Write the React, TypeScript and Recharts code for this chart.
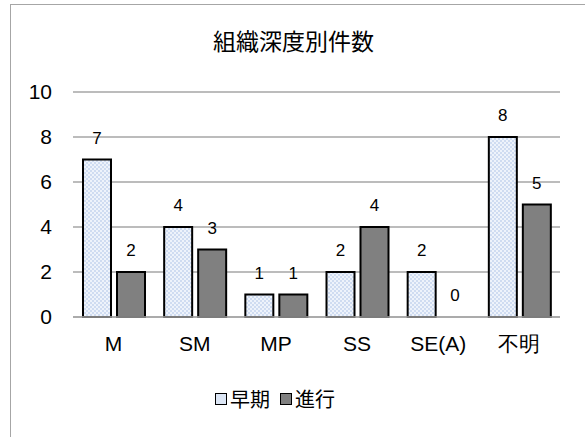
import React from 'react';
import { ComposedChart, Bar, Line, XAxis, YAxis, CartesianGrid, Legend, LabelList } from 'recharts';

const categories = ['M', 'SM', 'MP', 'SS', 'SE(A)', '不明'];
const earlyValues = [7, 4, 1, 2, 2, 8];
const advancedValues = [2, 3, 1, 4, 0, 5];
const yTicks = [0, 2, 4, 6, 8, 10];

// zero-valued bars draw no rect, so their labels come from an invisible line
const data = categories.map((name, i) => ({
  name,
  early: earlyValues[i],
  advanced: advancedValues[i],
  advancedZero: advancedValues[i] === 0 ? 0 : null,
}));

const series = [
  { key: 'early', name: '早期', fill: 'url(#dotPattern)', swatch: '#dce6f5' },
  { key: 'advanced', name: '進行', fill: '#808080', swatch: '#808080' },
];

const axisFont = '"Liberation Sans", Arial, sans-serif';
const jpFont = '"Noto Sans CJK JP", sans-serif';
const labelStyle = { fontSize: 17, fill: '#000', fontFamily: axisFont };

const LegendContent = () => (
  <div style={{ display: 'flex', justifyContent: 'center', alignItems: 'center', fontFamily: jpFont, fontSize: 20, color: '#000' }}>
    {series.map((s) => (
      <span key={s.key} style={{ display: 'flex', alignItems: 'center', marginRight: 10 }}>
        <span style={{ width: 10, height: 10, border: '1.5px solid #000', background: s.swatch, marginRight: 3 }} />
        {s.name}
      </span>
    ))}
  </div>
);

const ZeroLabel = (props: any) => {
  const { x, y, value } = props;
  if (value === null || value === undefined) return null;
  return (
    <text x={x + 16.8} y={y - 16} textAnchor="middle" style={labelStyle}>
      {value}
    </text>
  );
};

export default function App() {
  return (
    <div style={{ position: 'absolute', left: 0, top: 0, width: 585, height: 437, background: '#fff', overflow: 'hidden' }}>
      <div style={{ position: 'absolute', left: 10, top: 4, width: 600, height: 460, border: '1px solid #a6a6a6' }} />
      <div style={{ position: 'absolute', left: 0, top: 23, width: 587, textAlign: 'center', fontFamily: jpFont, fontSize: 23, color: '#000' }}>
        組織深度別件数
      </div>
      <div style={{ position: 'absolute', left: 0, top: 0 }}>
        <ComposedChart
          width={585}
          height={437}
          data={data}
          margin={{ top: 92, right: 25, left: 0, bottom: 61 }}
          barCategoryGap={10}
          barGap={6}
        >
          <defs>
            <pattern id="dotPattern" width="4" height="4" patternUnits="userSpaceOnUse">
              <rect width="4" height="4" fill="#eef3fb" />
              <rect width="2" height="2" fill="#cfdcf1" />
              <rect x="2" y="2" width="2" height="2" fill="#cfdcf1" />
            </pattern>
          </defs>
          <CartesianGrid vertical={false} stroke="#a6a6a6" strokeWidth={1.5} />
          <XAxis
            dataKey="name"
            axisLine={{ stroke: '#a6a6a6', strokeWidth: 1.5 }}
            tickLine={false}
            tickMargin={13}
            tick={{ fontSize: 21, fill: '#000', fontFamily: axisFont }}
            interval={0}
          />
          <YAxis
            domain={[0, 10]}
            ticks={yTicks}
            axisLine={false}
            tickLine={false}
            width={73}
            tickMargin={15}
            tick={{ fontSize: 21, fill: '#000', fontFamily: axisFont }}
          />
          <Legend verticalAlign="bottom" content={LegendContent} wrapperStyle={{ bottom: 24 }} />
          {series.map((s) => (
            <Bar
              key={s.key}
              dataKey={s.key}
              name={s.name}
              fill={s.fill}
              stroke="#000"
              strokeWidth={2}
              isAnimationActive={false}
            >
              <LabelList dataKey={s.key} position="top" offset={16} style={labelStyle} />
            </Bar>
          ))}
          <Line
            dataKey="advancedZero"
            stroke="none"
            dot={false}
            activeDot={false}
            legendType="none"
            isAnimationActive={false}
          >
            <LabelList dataKey="advancedZero" content={ZeroLabel} />
          </Line>
        </ComposedChart>
      </div>
    </div>
  );
}
